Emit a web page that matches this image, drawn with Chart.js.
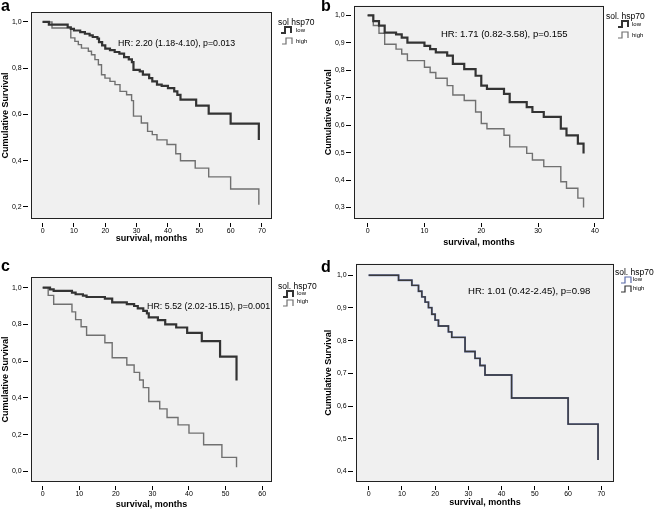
<!DOCTYPE html>
<html><head><meta charset="utf-8">
<script src="https://cdn.jsdelivr.net/npm/chart.js@4/dist/chart.umd.min.js"></script>
<style>
html,body{margin:0;padding:0;background:#fff;}
body{width:658px;height:512px;position:relative;overflow:hidden;font-family:"Liberation Sans",Arial,sans-serif;color:#000;}
canvas{position:absolute;}
.t{position:absolute;white-space:nowrap;}
.lt{font-weight:bold;font-size:16px;line-height:16px;}
svg{position:absolute;overflow:visible;}
</style></head><body>
<canvas id="ca" style="left:0px;top:0px" width="330" height="250"></canvas>
<canvas id="cb" style="left:323px;top:0px" width="335" height="250"></canvas>
<canvas id="cc" style="left:0px;top:258px" width="330" height="254"></canvas>
<canvas id="cd" style="left:323px;top:258px" width="335" height="254"></canvas>

<div class="t lt" style="left:1px;top:-2px">a</div>
<div class="t lt" style="left:321px;top:-2px">b</div>
<div class="t lt" style="left:1px;top:258px">c</div>
<div class="t lt" style="left:321px;top:259px">d</div>

<div class="t" style="left:118px;top:38.6px;font-size:8.8px;line-height:8.8px">HR: 2.20 (1.18-4.10), p=0.013</div>
<div class="t" style="left:441px;top:29.2px;font-size:9.5px;line-height:9.5px">HR: 1.71 (0.82-3.58), p=0.155</div>
<div class="t" style="left:147px;top:301.5px;font-size:8.9px;line-height:8.9px">HR: 5.52 (2.02-15.15), p=0.001</div>
<div class="t" style="left:468px;top:285.7px;font-size:9.6px;line-height:9.6px">HR: 1.01 (0.42-2.45), p=0.98</div>

<div class="t" style="left:278px;top:17.7px;font-size:8.5px;line-height:8.5px">sol hsp70</div>
<svg style="left:281px;top:26px" width="12" height="8"><path d="M0 7 H4 V1 H10 V7" fill="none" stroke="#333" stroke-width="2"/></svg>
<div class="t" style="left:296px;top:27px;font-size:6px;line-height:6px">low</div>
<svg style="left:282px;top:37px" width="12" height="8"><path d="M0 7 H4 V1 H10 V7" fill="none" stroke="#707070" stroke-width="1.2"/></svg>
<div class="t" style="left:296px;top:38px;font-size:6px;line-height:6px">high</div>

<div class="t" style="left:606px;top:11.7px;font-size:8.5px;line-height:8.5px">sol. hsp70</div>
<svg style="left:618px;top:20px" width="12" height="8"><path d="M0 7 H4 V1 H10 V7" fill="none" stroke="#333" stroke-width="2"/></svg>
<div class="t" style="left:632px;top:21px;font-size:6px;line-height:6px">low</div>
<svg style="left:618px;top:31px" width="12" height="8"><path d="M0 7 H4 V1 H10 V7" fill="none" stroke="#707070" stroke-width="1.2"/></svg>
<div class="t" style="left:632px;top:32px;font-size:6px;line-height:6px">high</div>

<div class="t" style="left:278px;top:281.7px;font-size:8.5px;line-height:8.5px">sol. hsp70</div>
<svg style="left:283px;top:290px" width="12" height="8"><path d="M0 7 H4 V1 H10 V7" fill="none" stroke="#333" stroke-width="2"/></svg>
<div class="t" style="left:297px;top:290px;font-size:6px;line-height:6px">low</div>
<svg style="left:283px;top:299px" width="12" height="8"><path d="M0 7 H4 V1 H10 V7" fill="none" stroke="#707070" stroke-width="1.2"/></svg>
<div class="t" style="left:297px;top:298px;font-size:6px;line-height:6px">high</div>

<div class="t" style="left:615px;top:267.7px;font-size:8.5px;line-height:8.5px">sol. hsp70</div>
<svg style="left:621px;top:276px" width="12" height="8"><path d="M0 7 H4 V1 H10 V7" fill="none" stroke="#5a6aa8" stroke-width="1.2"/></svg>
<div class="t" style="left:633px;top:276px;font-size:6px;line-height:6px">low</div>
<svg style="left:621px;top:285px" width="12" height="8"><path d="M0 7 H4 V1 H10 V7" fill="none" stroke="#333" stroke-width="1.2"/></svg>
<div class="t" style="left:633px;top:285px;font-size:6px;line-height:6px">high</div>

<script>
// ---- Data (Kaplan-Meier step points: time in months, cumulative survival) ----
const aLowTime  = [0,2,8,9,10,12,13.5,15,16,17.5,18,19,20,21.5,23,24.5,26,27.5,28.5,29,31,32,34,35,36.5,38,40,42,43,44,49,53,60,69];
const aLowSurv  = [1,0.988,0.977,0.970,0.963,0.956,0.949,0.942,0.935,0.928,0.913,0.899,0.885,0.878,0.870,0.863,0.848,0.838,0.826,0.793,0.786,0.772,0.757,0.743,0.729,0.724,0.714,0.70,0.685,0.664,0.638,0.604,0.56,0.49];
const aHighTime = [0,3,9,10.3,11.4,12.4,14.6,15.6,16.7,17.8,18.8,19.9,21.5,23.1,24.7,26.8,28.4,29,31.5,33.5,35,36.5,39.7,42.5,44,48.7,53,60,69];
const aHighSurv = [1,0.974,0.931,0.916,0.902,0.887,0.873,0.858,0.837,0.815,0.772,0.757,0.743,0.729,0.70,0.685,0.66,0.593,0.563,0.527,0.513,0.49,0.47,0.43,0.40,0.368,0.33,0.278,0.21];

const bLowTime  = [0,1,2,3,5,6,7,10,11,12,14,15,17,19,20,21,24,25,28,29,31,34,35,37,38];
const bLowSurv  = [1,0.979,0.963,0.937,0.931,0.919,0.901,0.889,0.877,0.865,0.853,0.823,0.804,0.78,0.744,0.732,0.714,0.684,0.666,0.648,0.63,0.587,0.563,0.533,0.497];
const bHighTime = [0,1,2,3,5,6,7,10,11,12,14,15,17,19,20,21,24,25,28,29,31,34,35,37,38];
const bHighSurv = [1,0.963,0.935,0.895,0.877,0.859,0.835,0.811,0.792,0.771,0.744,0.71,0.69,0.648,0.606,0.587,0.563,0.521,0.497,0.473,0.449,0.394,0.37,0.334,0.3];

const cLowTime  = [0,2,3,8,9,11,12,17,19,23,25,26,27.5,28.5,29,31.5,33.5,36.5,39.5,43.5,48.5,53];
const cLowSurv  = [1,0.991,0.982,0.973,0.964,0.957,0.949,0.94,0.92,0.91,0.9,0.887,0.874,0.86,0.838,0.823,0.80,0.783,0.754,0.709,0.624,0.494];
const cHighTime = [0,1.5,3,8,9,10.5,12,17,19,23,25,26.5,27.5,29,32,34,37,40,44,49,53];
const cHighSurv = [1,0.958,0.91,0.868,0.826,0.787,0.741,0.70,0.618,0.579,0.539,0.497,0.456,0.38,0.34,0.293,0.253,0.208,0.145,0.076,0.022];

const dLowTime  = [0,9,13,15,16,17,18,19,20,21,24,25,29,32,33.5,35,43,60,69];
const dLowSurv  = [1,0.985,0.969,0.951,0.934,0.918,0.901,0.881,0.863,0.845,0.827,0.81,0.767,0.746,0.724,0.695,0.625,0.545,0.435];
const dHighTime = [0,9,13,15,16,17,18,19,20,21,24,25,29,32,33.5,35,43,60,69];
const dHighSurv = [1,0.985,0.969,0.951,0.934,0.918,0.901,0.881,0.863,0.845,0.827,0.81,0.767,0.746,0.724,0.695,0.625,0.545,0.435];

// ---- Tick labels ----
const xTicksA = [0,10,20,30,40,50,60,70];
const yTicksA = [0.2,0.4,0.6,0.8,1.0];
const xTicksB = [0,10,20,30,40];
const yTicksB = [0.3,0.4,0.5,0.6,0.7,0.8,0.9,1.0];
const xTicksC = [0,10,20,30,40,50,60];
const yTicksC = [0.0,0.2,0.4,0.6,0.8,1.0];
const xTicksD = [0,10,20,30,40,50,60,70];
const yTicksD = [0.4,0.5,0.6,0.7,0.8,0.9,1.0];

const xTitle = 'survival, months';
const yTitle = 'Cumulative Survival';

Chart.defaults.font.family = '"Liberation Sans", Arial, sans-serif';
Chart.defaults.color = '#000';

function pts(t, s) { return t.map((v, i) => ({x: v, y: s[i]})); }
const fmtY = v => Number(v).toFixed(1).replace('.', ',');

const framePlugin = {
  id: 'frame',
  beforeDraw(chart) {
    const {ctx, chartArea: a} = chart;
    ctx.save();
    ctx.fillStyle = '#f0f0f0';
    ctx.fillRect(a.left, a.top, a.right - a.left, a.bottom - a.top);
    ctx.restore();
  },
  afterDraw(chart) {
    const {ctx, chartArea: a} = chart;
    ctx.save();
    ctx.strokeStyle = '#222';
    ctx.lineWidth = 1;
    const l = Math.round(a.left) + 0.5, t = Math.round(a.top) + 0.5;
    const r = Math.round(a.right) - 0.5, b = Math.round(a.bottom) - 0.5;
    ctx.strokeRect(l, t, r - l, b - t);
    ctx.restore();
  }
};

function lineDs(t, s, color, width) {
  return {data: pts(t, s), borderColor: color, borderWidth: width, stepped: true,
          pointRadius: 0, fill: false, tension: 0, borderJoinStyle: 'miter', borderCapStyle: 'butt'};
}

function makeChart(id, o) {
  new Chart(document.getElementById(id), {
    type: 'line',
    data: {datasets: o.datasets},
    plugins: [framePlugin],
    options: {
      responsive: false, animation: false, devicePixelRatio: 1,
      layout: {padding: o.pad},
      plugins: {legend: {display: false}, tooltip: {enabled: false}},
      scales: {
        x: {
          type: 'linear', min: o.xmin, max: o.xmax,
          afterBuildTicks: s => { s.ticks = o.xt.map(v => ({value: v})); },
          afterFit: s => { s.height = o.xh; },
          grid: {display: true, drawOnChartArea: false, drawTicks: true, tickLength: 8,
                 tickColor: '#000', tickWidth: 1, tickBorderDash: [4, 4], tickBorderDashOffset: 4},
          border: {display: false},
          ticks: {padding: 0, font: {size: 7}, maxRotation: 0, autoSkip: false, callback: v => String(v)},
          title: {display: true, text: xTitle, font: {size: 9, weight: 'bold'}, padding: {top: 0, bottom: o.xtp}}
        },
        y: {
          type: 'linear', min: o.ymin, max: o.ymax,
          afterBuildTicks: s => { s.ticks = o.yt.map(v => ({value: v})); },
          afterFit: s => { s.width = o.yw; },
          grid: {display: true, drawOnChartArea: false, drawTicks: true, tickLength: 8,
                 tickColor: '#000', tickWidth: 1, tickBorderDash: [5, 3]},
          border: {display: false},
          ticks: {padding: 1.3, font: {size: 7}, autoSkip: false, callback: fmtY},
          title: {display: true, text: yTitle, font: {size: 9, weight: 'bold'}, padding: {top: 0, bottom: 0}}
        }
      }
    }
  });
}

const LOWC = '#333333', HIGHC = '#707070';

makeChart('ca', {
  datasets: [lineDs(aLowTime, aLowSurv, LOWC, 2.2), lineDs(aHighTime, aHighSurv, HIGHC, 1.4)],
  xt: xTicksA, yt: yTicksA, xmin: -3.7, xmax: 73.2, ymin: 0.148, ymax: 1.043,
  pad: {left: 0, top: 12, right: 58, bottom: 0}, yw: 31, xh: 31, xtp: 5.6
});
makeChart('cb', {
  datasets: [lineDs(bLowTime, bLowSurv, LOWC, 2.2), lineDs(bHighTime, bHighSurv, HIGHC, 1.4)],
  xt: xTicksB, yt: yTicksB, xmin: -2.4, xmax: 41.6, ymin: 0.258, ymax: 1.036,
  pad: {left: 0, top: 4, right: 54, bottom: 0}, yw: 31, xh: 31, xtp: 1.6
});
makeChart('cc', {
  datasets: [lineDs(cLowTime, cLowSurv, LOWC, 2.2), lineDs(cHighTime, cHighSurv, HIGHC, 1.4)],
  xt: xTicksC, yt: yTicksC, xmin: -3.2, xmax: 62.7, ymin: -0.058, ymax: 1.058,
  pad: {left: 0, top: 19, right: 58, bottom: 0}, yw: 31, xh: 30, xtp: 1.6
});
makeChart('cd', {
  datasets: [lineDs(dHighTime, dHighSurv, '#3a3a3a', 1.4), lineDs(dLowTime, dLowSurv, '#6674b0', 1.9)],
  xt: xTicksD, yt: yTicksD, xmin: -3.8, xmax: 73.8, ymin: 0.368, ymax: 1.036,
  pad: {left: 0, top: 4, right: 44, bottom: 0}, yw: 33, xh: 30, xtp: 3.6
});
</script>
</body></html>
